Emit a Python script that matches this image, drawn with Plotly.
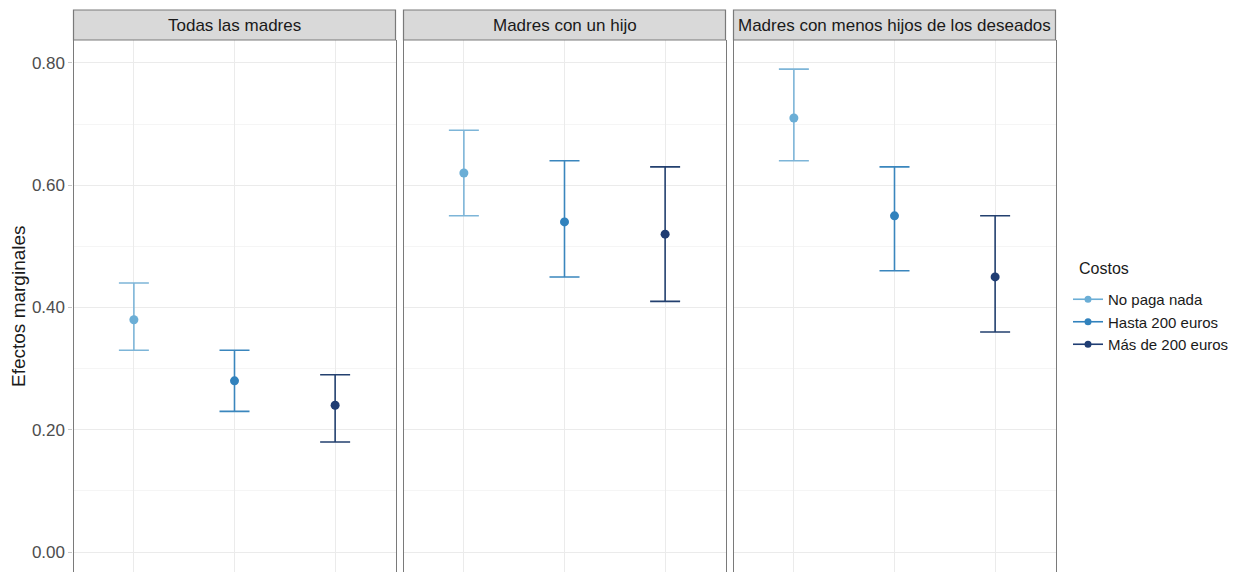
import plotly.graph_objects as go

# Facet panels and cost categories
panels = ["Todas las madres", "Madres con un hijo", "Madres con menos hijos de los deseados"]
costos = ["No paga nada", "Hasta 200 euros", "Más de 200 euros"]

# Marginal effects per panel (one value per cost category)
efecto = [
    [0.38, 0.28, 0.24],
    [0.62, 0.54, 0.52],
    [0.71, 0.55, 0.45],
]
ic_bajo = [
    [0.33, 0.23, 0.18],
    [0.55, 0.45, 0.41],
    [0.64, 0.46, 0.36],
]
ic_alto = [
    [0.44, 0.33, 0.29],
    [0.69, 0.64, 0.63],
    [0.79, 0.63, 0.55],
]

colores_punto = ["#6baed6", "#3182bd", "#1f3d73"]
colores_barra = ["#7db5d8", "#3a86bd", "#23406f"]

W, H = 1238, 572
px_x = lambda v: v / W
px_y = lambda v: (H - v) / H

# Panel boxes in pixels (left, right)
panel_px = [(73.5, 395.5), (403.5, 725.5), (733.5, 1055.5)]
plot_top, strip_top = 40, 10

fig = go.Figure()

for p in range(3):
    xa = "x" if p == 0 else f"x{p+1}"
    ya = "y" if p == 0 else f"y{p+1}"
    for c in range(3):
        fig.add_trace(go.Scatter(
            x=[c + 1], y=[efecto[p][c]],
            mode="markers",
            marker=dict(color=colores_punto[c], size=9),
            error_y=dict(
                type="data", symmetric=False,
                array=[ic_alto[p][c] - efecto[p][c]],
                arrayminus=[efecto[p][c] - ic_bajo[p][c]],
                color=colores_barra[c], thickness=1.6, width=15,
            ),
            xaxis=xa, yaxis=ya, showlegend=False, hoverinfo="skip",
        ))

# Legend entries
for c in range(3):
    fig.add_trace(go.Scatter(
        x=[None], y=[None], mode="lines+markers", name=costos[c],
        line=dict(color=colores_punto[c], width=1.6),
        marker=dict(color=colores_punto[c], size=7),
    ))

yrange = [-0.0327, 0.8376]
layout = dict(
    width=W, height=H,
    margin=dict(l=0, r=0, t=0, b=0),
    paper_bgcolor="white", plot_bgcolor="white",
    font=dict(family="Liberation Sans, Arial, sans-serif", color="#1a1a1a"),
    legend=dict(
        x=px_x(1068), y=px_y(283), xanchor="left", yanchor="top",
        font=dict(size=15, color="#1a1a1a"), tracegroupgap=0,
        itemwidth=30, bgcolor="rgba(0,0,0,0)",
    ),
)

shapes = []
annotations = []
for p, (l, r) in enumerate(panel_px):
    sx = "" if p == 0 else str(p + 1)
    layout[f"xaxis{sx}"] = dict(
        domain=[px_x(l), px_x(r)], range=[0.4, 3.6],
        tickvals=[1, 2, 3], showticklabels=False, ticks="",
        showgrid=True, gridcolor="#ebebeb", gridwidth=1.2,
        zeroline=False, showline=False, anchor=f"y{sx}",
        fixedrange=True,
    )
    layout[f"yaxis{sx}"] = dict(
        domain=[0, px_y(plot_top)], range=yrange,
        tickvals=[0, 0.2, 0.4, 0.6, 0.8],
        ticktext=["0.00", "0.20", "0.40", "0.60", "0.80"] if p == 0 else None,
        showticklabels=(p == 0),
        ticks="outside" if p == 0 else "", ticklen=4, tickcolor="#c8c8c8",
        tickfont=dict(size=17, color="#4d4d4d"),
        showgrid=True, gridcolor="#ebebeb", gridwidth=1.2,
        minor=dict(tickvals=[0.1, 0.3, 0.5, 0.7], showgrid=True,
                   gridcolor="#f5f5f5", gridwidth=0.8),
        zeroline=False, showline=True, mirror=True,
        linecolor="#7a7a7a", linewidth=1.2,
        anchor=f"x{sx}", fixedrange=True,
    )
    # strip header
    shapes.append(dict(
        type="rect", xref="paper", yref="paper",
        x0=px_x(l), x1=px_x(r), y0=px_y(plot_top), y1=px_y(strip_top),
        fillcolor="#d9d9d9", line=dict(color="#7a7a7a", width=1.2), layer="above",
    ))
    annotations.append(dict(
        text=panels[p], xref="paper", yref="paper",
        x=(px_x(l) + px_x(r)) / 2, y=(px_y(plot_top) + px_y(strip_top)) / 2,
        xanchor="center", yanchor="middle", showarrow=False,
        font=dict(size=17, color="#1a1a1a"),
    ))

# Y-axis title
annotations.append(dict(
    text="Efectos marginales", xref="paper", yref="paper",
    x=px_x(18), y=px_y(306), textangle=-90,
    xanchor="center", yanchor="middle", showarrow=False,
    font=dict(size=19, color="#1a1a1a"),
))

# Legend title
annotations.append(dict(
    text="Costos", xref="paper", yref="paper",
    x=px_x(1077), y=px_y(268),
    xanchor="left", yanchor="middle", showarrow=False,
    font=dict(size=16, color="#1a1a1a"),
))

layout["shapes"] = shapes
layout["annotations"] = annotations
fig.update_layout(**layout)

fig.write_html("out.html")
